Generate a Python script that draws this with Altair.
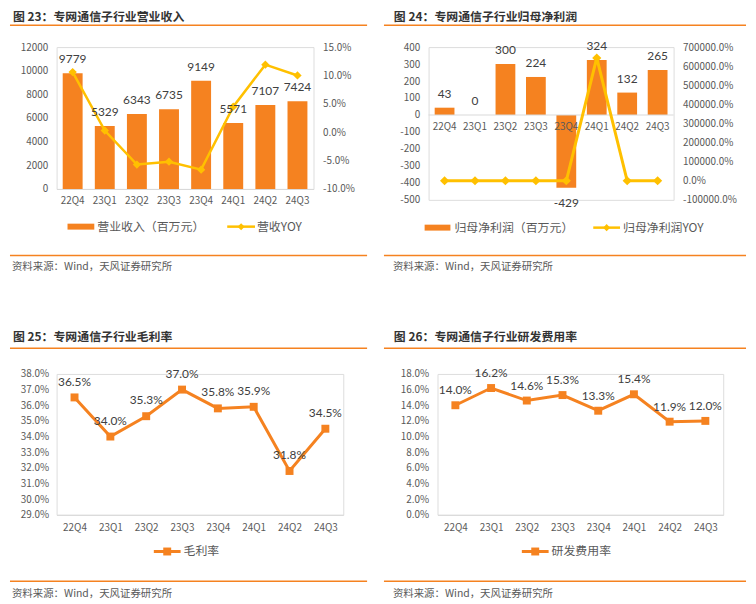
import altair as alt
import pandas as pd

# ---------------- data ----------------
quarters = ["22Q4", "23Q1", "23Q2", "23Q3", "23Q4", "24Q1", "24Q2", "24Q3"]
revenue = [9779, 5329, 6343, 6735, 9149, 5571, 7107, 7424]
revenue_yoy = [0.106, 0.003, -0.057, -0.052, -0.066, 0.045, 0.119, 0.100]
net_profit = [43, 0, 300, 224, -429, 324, 132, 265]
net_profit_yoy = [0.0, 0.0, 0.0, 0.0, 0.0, 6430.0, 0.0, 0.0]
gross_margin = [0.365, 0.340, 0.353, 0.370, 0.358, 0.359, 0.318, 0.345]
rd_ratio = [0.140, 0.162, 0.146, 0.153, 0.133, 0.154, 0.119, 0.120]

rev_ticks = [0, 2000, 4000, 6000, 8000, 10000, 12000]
rev_yoy_ticks = [-0.10, -0.05, 0.0, 0.05, 0.10, 0.15]
profit_ticks = [-500, -400, -300, -200, -100, 0, 100, 200, 300, 400]
profit_yoy_ticks = [-1000, 0, 1000, 2000, 3000, 4000, 5000, 6000, 7000]
gm_ticks = [0.29, 0.30, 0.31, 0.32, 0.33, 0.34, 0.35, 0.36, 0.37, 0.38]
rd_ticks = [0.0, 0.02, 0.04, 0.06, 0.08, 0.10, 0.12, 0.14, 0.16, 0.18]

titles = [
    "图 23：专网通信子行业营业收入",
    "图 24：专网通信子行业归母净利润",
    "图 25：专网通信子行业毛利率",
    "图 26：专网通信子行业研发费用率",
]
legend1 = ["营业收入（百万元）", "营收YOY"]
legend2 = ["归母净利润（百万元）", "归母净利润YOY"]
legend3 = ["毛利率"]
legend4 = ["研发费用率"]
source_text = "资料来源：Wind，天风证券研究所"

# ---------------- styles ----------------
ORANGE = "#F58220"
YELLOW = "#FFC000"
AXIS_GRAY = "#595959"
LABEL_DARK = "#404040"
BASE_GRAY = "#D9D9D9"
TITLE_COL = "#333333"
CJK = "Noto Sans CJK SC"
NUM = "Lato"
MINUS_FIX = "replace(datum.label, '\u2212', '-')"


def one(label=""):
    return pd.DataFrame({"t": [label]})


def txt(label, x, y, size, color, weight="normal", font=CJK):
    return alt.Chart(one(label)).mark_text(
        align="left", baseline="middle", font=font, fontSize=size,
        color=color, fontWeight=weight
    ).encode(x=alt.value(x), y=alt.value(y), text="t:N")


def hline(x1, x2, y, color, width):
    return alt.Chart(one()).mark_rule(color=color, strokeWidth=width).encode(
        x=alt.value(x1), x2=alt.value(x2), y=alt.value(y))


def swatch_rect(x1, x2, y, color):
    return alt.Chart(one()).mark_rect(color=color).encode(
        x=alt.value(x1), x2=alt.value(x2), y=alt.value(y - 3), y2=alt.value(y + 3))


def swatch_point(x, y, shape, size, color):
    return alt.Chart(one()).mark_point(
        shape=shape, filled=True, size=size, color=color, opacity=1
    ).encode(x=alt.value(x), y=alt.value(y))


def y_axis(values, fmt, orient="left", pad=9):
    return alt.Axis(orient=orient, values=values, format=fmt, title=None,
                    domain=False, ticks=False, grid=False, labelPadding=pad,
                    labelFont=CJK, labelFontSize=10, labelColor=AXIS_GRAY,
                    labelExpr=MINUS_FIX)


def x_axis(pad):
    return alt.Axis(title=None, labelAngle=0, ticks=False, grid=False,
                    domainColor=BASE_GRAY, domainWidth=1, labelPadding=pad,
                    labelFont=CJK, labelFontSize=10, labelColor=AXIS_GRAY)


def pct(v):
    return f"{v * 100:.1f}%"


# ---------------- panel 1: revenue ----------------
d1 = pd.DataFrame({"q": quarters, "rev": revenue, "yoy": revenue_yoy,
                   "lab": [str(v) for v in revenue]})
x1 = alt.X("q:N", sort=quarters,
           scale=alt.Scale(paddingInner=0.38, paddingOuter=0.19), axis=x_axis(7))
ys1 = alt.Scale(domain=[0, 12000], nice=False)
yr1 = alt.Scale(domain=[-0.10, 0.15], nice=False)

bars1 = alt.Chart(d1).mark_bar(color=ORANGE).encode(
    x=x1, y=alt.Y("rev:Q", scale=ys1, axis=y_axis(rev_ticks, "d")))
line1 = alt.Chart(d1).mark_line(color=YELLOW, strokeWidth=2.5).encode(
    x=x1, y=alt.Y("yoy:Q", scale=yr1, axis=y_axis(rev_yoy_ticks, ".1%", "right")))
pts1 = alt.Chart(d1).mark_point(shape="diamond", filled=True, size=70,
                                color=YELLOW, opacity=1).encode(
    x=x1, y=alt.Y("yoy:Q", scale=yr1, axis=None))
lab1 = alt.Chart(d1).mark_text(dy=-14, font=NUM, fontSize=12, color=LABEL_DARK).encode(
    x=x1, y=alt.Y("rev:Q", scale=ys1, axis=None), text="lab:N")

p1 = alt.layer(
    bars1, line1, pts1, lab1,
    txt(titles[0], -44, -30, 12, TITLE_COL, "bold"),
    hline(-47, 313, -22, ORANGE, 1.5),
    swatch_rect(11, 38, 181, ORANGE),
    txt(legend1[0], 41, 181, 12, AXIS_GRAY),
    hline(172, 200, 181, YELLOW, 2.5),
    swatch_point(186, 181, "diamond", 50, YELLOW),
    txt(legend1[1], 202, 181, 12, AXIS_GRAY),
    hline(-47, 313, 210, ORANGE, 1.5),
    txt(source_text, -45, 222, 10.5, AXIS_GRAY),
).resolve_scale(y="independent").properties(width=259, height=143)

# ---------------- panel 2: net profit ----------------
d2 = pd.DataFrame({"q": quarters, "p": net_profit, "yoy": net_profit_yoy,
                   "zero": [0] * len(quarters),
                   "lab": [str(v) for v in net_profit]})
x2 = alt.X("q:N", sort=quarters,
           scale=alt.Scale(paddingInner=0.35, paddingOuter=0.2), axis=None)
ys2 = alt.Scale(domain=[-500, 400], nice=False)
yr2 = alt.Scale(domain=[-1000, 7000], nice=False)

bars2 = alt.Chart(d2).mark_bar(color=ORANGE).encode(
    x=x2, y=alt.Y("p:Q", scale=ys2, axis=y_axis(profit_ticks, "d")))
zero2 = alt.Chart(one()).mark_rule(color=BASE_GRAY, strokeWidth=1).encode(
    y=alt.datum(0, scale=ys2, axis=None))
xlab2 = alt.Chart(d2).mark_text(dy=12, font=CJK, fontSize=10, color=AXIS_GRAY).encode(
    x=x2, y=alt.Y("zero:Q", scale=ys2, axis=None), text="q:N")
line2 = alt.Chart(d2).mark_line(color=YELLOW, strokeWidth=3).encode(
    x=x2, y=alt.Y("yoy:Q", scale=yr2, axis=y_axis(profit_yoy_ticks, ".1%", "right")))
pts2 = alt.Chart(d2).mark_point(shape="diamond", filled=True, size=85,
                                color=YELLOW, opacity=1).encode(
    x=x2, y=alt.Y("yoy:Q", scale=yr2, axis=None))
labpos2 = alt.Chart(d2).transform_filter("datum.p >= 0").mark_text(
    dy=-14, font=NUM, fontSize=12, color=LABEL_DARK).encode(
    x=x2, y=alt.Y("p:Q", scale=ys2, axis=None), text="lab:N")
labneg2 = alt.Chart(d2).transform_filter("datum.p < 0").mark_text(
    dy=15, font=NUM, fontSize=12, color=LABEL_DARK).encode(
    x=x2, y=alt.Y("p:Q", scale=ys2, axis=None), text="lab:N")

p2 = alt.layer(
    bars2, zero2, xlab2, line2, pts2, labpos2, labneg2,
    txt(titles[1], -35, -30, 12, TITLE_COL, "bold"),
    hline(-45, 320, -22, ORANGE, 1.5),
    swatch_rect(-4, 22, 182, ORANGE),
    txt(legend2[0], 26, 182, 12, AXIS_GRAY),
    hline(166, 193, 182, YELLOW, 2.5),
    swatch_point(179.5, 182, "diamond", 50, YELLOW),
    txt(legend2[1], 196, 182, 12, AXIS_GRAY),
    hline(-45, 320, 210, ORANGE, 1.5),
    txt(source_text, -36, 222, 10.5, AXIS_GRAY),
).resolve_scale(y="independent").properties(width=247, height=154)

# ---------------- panel 3: gross margin ----------------
d3 = pd.DataFrame({"q": quarters, "v": gross_margin,
                   "lab": [pct(v) for v in gross_margin]})
x3 = alt.X("q:N", sort=quarters, axis=x_axis(8))
ys3 = alt.Scale(domain=[0.29, 0.38], nice=False)
line3 = alt.Chart(d3).mark_line(color=ORANGE, strokeWidth=3).encode(
    x=x3, y=alt.Y("v:Q", scale=ys3, axis=y_axis(gm_ticks, ".1%", pad=8)))
pts3 = alt.Chart(d3).mark_point(shape="square", filled=True, size=64,
                                color=ORANGE, opacity=1).encode(
    x=x3, y=alt.Y("v:Q", scale=ys3, axis=None))
lab3 = alt.Chart(d3).mark_text(dy=-16, font=NUM, fontSize=12, color=LABEL_DARK).encode(
    x=x3, y=alt.Y("v:Q", scale=ys3, axis=None), text="lab:N")

p3 = alt.layer(
    line3, pts3, lab3,
    txt(titles[2], -44, -37, 12, TITLE_COL, "bold"),
    hline(-47, 313, -26, ORANGE, 1.5),
    hline(98, 125, 179, ORANGE, 3),
    swatch_point(111.5, 179, "square", 64, ORANGE),
    txt(legend3[0], 128, 179, 12, AXIS_GRAY),
    hline(-47, 313, 209, ORANGE, 1.5),
    txt(source_text, -45, 222, 10.5, AXIS_GRAY),
).resolve_scale(y="independent").properties(width=289, height=142)

# ---------------- panel 4: R&D expense ratio ----------------
d4 = pd.DataFrame({"q": quarters, "v": rd_ratio,
                   "lab": [pct(v) for v in rd_ratio]})
x4 = alt.X("q:N", sort=quarters, axis=x_axis(8))
ys4 = alt.Scale(domain=[0.0, 0.18], nice=False)
line4 = alt.Chart(d4).mark_line(color=ORANGE, strokeWidth=3).encode(
    x=x4, y=alt.Y("v:Q", scale=ys4, axis=y_axis(rd_ticks, ".1%")))
pts4 = alt.Chart(d4).mark_point(shape="square", filled=True, size=64,
                                color=ORANGE, opacity=1).encode(
    x=x4, y=alt.Y("v:Q", scale=ys4, axis=None))
lab4 = alt.Chart(d4).mark_text(dy=-15, font=NUM, fontSize=12, color=LABEL_DARK).encode(
    x=x4, y=alt.Y("v:Q", scale=ys4, axis=None), text="lab:N")

p4 = alt.layer(
    line4, pts4, lab4,
    txt(titles[3], -44, -37, 12, TITLE_COL, "bold"),
    hline(-54, 311, -26, ORANGE, 1.5),
    hline(85, 112, 179, ORANGE, 3),
    swatch_point(98.5, 179, "square", 64, ORANGE),
    txt(legend4[0], 115, 179, 12, AXIS_GRAY),
    hline(-54, 311, 209, ORANGE, 1.5),
    txt(source_text, -45, 222, 10.5, AXIS_GRAY),
).resolve_scale(y="independent").properties(width=288, height=142)

# ---------------- layout ----------------
row1 = alt.hconcat(p1, p2, spacing=116, bounds="flush")
row2 = alt.hconcat(p3, p4, spacing=95, bounds="flush")
chart = alt.vconcat(row1, row2, spacing=57.5, padding=0).configure_view(
    strokeWidth=0).configure(background="white")

chart.save("out.html", embed_options={"renderer": "svg", "actions": False})
